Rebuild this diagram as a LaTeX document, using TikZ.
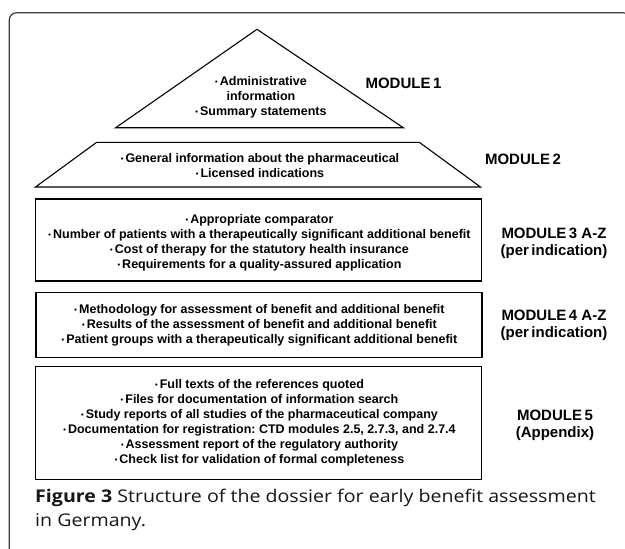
\documentclass[tikz,border=0pt]{standalone}
\usepackage{fontspec}
\setmainfont{Liberation Sans}
\newfontfamily\capfont[FakeStretch=1.12]{Open Sans}
\newcommand\bul{{\fontsize{7.5}{7.5}\selectfont\raisebox{0.28ex}{•}}\,}
\definecolor{framegray}{RGB}{60,60,60}
\definecolor{captext}{RGB}{25,22,23}
\tikzset{
  shapeline/.style={draw=black, line width=1.1pt},
  boxnode/.style={shapeline, rectangle, inner sep=0pt, align=center},
  bodytext/.style={align=center, inner sep=0pt, font=\bfseries\fontsize{12.5}{15}\selectfont},
  modlabel/.style={align=center, inner sep=0pt, font=\bfseries\fontsize{15}{17}\selectfont},
  captionline/.style={anchor=base west, inner sep=0pt, text=captext, font=\capfont\fontsize{17.5}{24}\selectfont}
}
\begin{document}
\begin{tikzpicture}[x=1pt,y=-1pt]
\useasboundingbox (0,0) rectangle (625,549);
\fill[white] (0,0) rectangle (625,549);
% outer frame
\draw[draw=framegray, line width=1.2pt, rounded corners=7.3pt] (9.3,560) -- (9.3,12.7) -- (630,12.7) -- (630,40);
% Module 1 triangle
\coordinate (t1) at (257,29.3);
\coordinate (t2) at (403.3,127.7);
\coordinate (t3) at (115.7,127.7);
\draw[shapeline, line join=miter] (t1) -- (t2) -- (t3) -- cycle;
\node[bodytext] (m1text) at (261,97.7) {\bul Administrative\\information\\\bul Summary statements};
\node[modlabel] (m1lab) at (403.5,83) {MODULE\,1};
% Module 2 trapezoid
\coordinate (p1) at (96.7,142.3);
\coordinate (p2) at (419.3,142.3);
\coordinate (p3) at (480.5,187);
\coordinate (p4) at (35.5,187);
\draw[shapeline] (p1) -- (p2) -- (p3) -- (p4) -- cycle;
\node[bodytext] (m2text) at (260,166) {\bul General information\ about the pharmaceutical\\\bul Licensed indications};
\node[modlabel] (m2lab) at (523,159.5) {MODULE\,2};
% Module 3 box
\node[boxnode, minimum width=446.5pt, minimum height=82pt] (m3box) at (258.5,240) {};
\node[bodytext] (m3text) at (259.5,242.5) {\bul Appropriate comparator\\\bul Number of patients with a therapeutically significant additional benefit\\\bul Cost of therapy for the statutory health insurance\\\bul Requirements for a quality-assured application};
\node[modlabel, font=\bfseries\fontsize{15}{16.7}\selectfont] (m3lab) at (554,243.5) {MODULE\,3 A-Z\\(per\,indication)};
% Module 4 box
\node[boxnode, minimum width=446pt, minimum height=65.3pt] (m4box) at (259,325) {};
\node[bodytext] (m4text) at (259.5,325.7) {\bul Methodology for assessment of benefit and additional benefit\\\bul Results of the assessment of benefit and additional benefit\\\bul Patient groups with a therapeutically significant additional benefit};
\node[modlabel, font=\bfseries\fontsize{15}{16.7}\selectfont] (m4lab) at (554,325) {MODULE\,4 A-Z\\(per\,indication)};
% Module 5 box
\node[boxnode, minimum width=446.5pt, minimum height=112.3pt] (m5box) at (258.5,423) {};
\node[bodytext] (m5text) at (259.5,423) {\bul Full texts of the references quoted\\\bul Files for documentation of information search\\\bul Study reports of all studies of the pharmaceutical company\\\bul Documentation for registration:\ CTD modules 2.5, 2.7.3, and 2.7.4\\\bul Assessment report of the regulatory authority\\\bul Check list for validation of formal completeness};
\node[modlabel, font=\bfseries\fontsize{15}{17.3}\selectfont] (m5lab) at (555,425.3) {MODULE\,5\\(Appendix)};
% caption
\node[captionline] (cap1) at (35,502) {\textbf{Figure 3} Structure of the dossier for early benefit assessment};
\node[captionline] (cap2) at (35,526) {in Germany.};
\end{tikzpicture}
\end{document}
